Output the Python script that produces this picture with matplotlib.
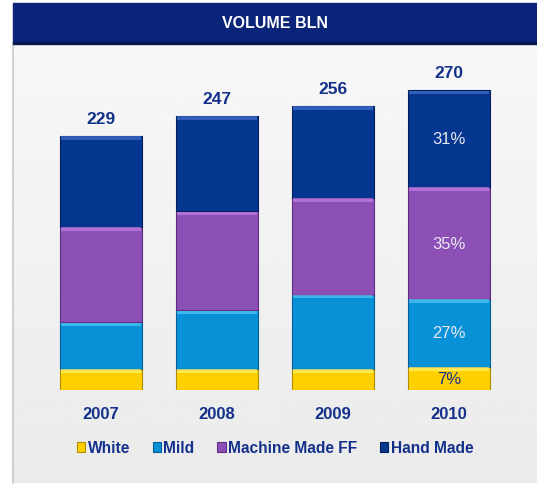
import matplotlib
matplotlib.use("Agg")
import matplotlib.pyplot as plt
import matplotlib.patches as mpatches
import numpy as np

plt.rcParams['font.family'] = ['Liberation Sans', 'DejaVu Sans']

years = ["2007", "2008", "2009", "2010"]
totals = [229, 247, 256, 270]
series_names = ["White", "Mild", "Machine Made FF", "Hand Made"]
white = [19, 19, 19, 21]
mild = [42, 53, 67, 61]
machine_ff = [86, 89, 87, 101]
hand_made = [82, 86, 83, 87]
share_labels_2010 = ["7%", "27%", "35%", "31%"]

NAVY = "#13318a"
colors = ["#ffd000", "#0891d6", "#8c4fb6", "#053791"]
tops = ["#fff06a", "#4fc6f5", "#c07ce6", "#3f6cc8"]
edges = ["#b08f00", "#05609a", "#5e2f80", "#021f5c"]

fig = plt.figure(figsize=(5.37, 4.86), dpi=100)
W, H = 537, 486

# panel background with soft vertical gradient
bg = fig.add_axes([13 / W, 3 / H, 1 - 13 / W, (483 - 3) / H])
grad = np.linspace(0.975, 0.92, 256).reshape(-1, 1)
bg.imshow(grad, aspect="auto", cmap="gray", vmin=0, vmax=1, extent=[0, 1, 0, 1])
bg.set_xlim(0, 1)
bg.set_ylim(0, 1)
bg.axis("off")
fig.add_artist(plt.Line2D([13 / W, 13 / W], [3 / H, 1 - 43 / H],
                          transform=fig.transFigure, color="#c8c8c8", lw=1.2))

# title banner
fig.add_artist(mpatches.Rectangle((13 / W, 1 - 42 / H), 1 - 13 / W, 39 / H,
                                  transform=fig.transFigure, color="#0a2479", zorder=2))
fig.add_artist(mpatches.Rectangle((13 / W, 1 - 44 / H), 1 - 13 / W, 2 / H,
                                  transform=fig.transFigure, color="#061a50", zorder=2))
fig.text((13 + W) / 2 / W, 1 - 23 / H, "VOLUME BLN", color="white", fontsize=11.5,
         fontweight="bold", ha="center", va="center", zorder=3)

# chart axes: baseline at y=390px, 1.11 px per unit
px_per_unit = 1.11
ymax = 300
ax = fig.add_axes([43 / W, (H - 390) / H, 464 / W, ymax * px_per_unit / H])
ax.set_xlim(-0.5, 3.5)
ax.set_ylim(0, ymax)
ax.patch.set_alpha(0)
ax.axis("off")

x = np.arange(len(years))
width = 0.715
bevel = 3.5 / px_per_unit
bottom = np.zeros(len(years))
stack = [white, mild, machine_ff, hand_made]
for vals, c, t, e in zip(stack, colors, tops, edges):
    vals = np.array(vals, dtype=float)
    ax.bar(x, vals, width, bottom=bottom, color=c, edgecolor=e, linewidth=0.8, zorder=3)
    ax.bar(x, np.full(len(x), bevel), width * 0.96, bottom=bottom + vals - bevel - 0.4,
           color=t, linewidth=0, alpha=0.75, zorder=4)
    bottom += vals

for xi, tot in zip(x, totals):
    ax.text(xi, tot + 15, str(tot), ha="center", va="center", fontsize=12.5,
            fontweight="bold", color=NAVY)

# share labels on the last bar
last = len(years) - 1
b = 0
for i, vals in enumerate(stack):
    v = vals[last]
    txt_color = NAVY if i == 0 else "#e8e8f2"
    ax.text(x[last], b + v / 2 - 1, share_labels_2010[i], ha="center", va="center",
            fontsize=12, color=txt_color)
    b += v

for xi, yr in zip(x, years):
    ax.text(xi, -24 / px_per_unit, yr, ha="center", va="center", fontsize=12,
            fontweight="bold", color=NAVY, clip_on=False)

handles = [mpatches.Patch(facecolor=c, edgecolor=e, linewidth=0.8) for c, e in zip(colors, edges)]
leg = fig.legend(handles, series_names, loc="center", bbox_to_anchor=(275 / W, 1 - 448 / H),
                 ncol=4, frameon=False, handlelength=0.55, handleheight=0.55,
                 handletextpad=0.15, columnspacing=1.45, fontsize=11.2)
for t in leg.get_texts():
    t.set_color(NAVY)
    t.set_fontweight("bold")

fig.savefig("out.png", dpi=100)
